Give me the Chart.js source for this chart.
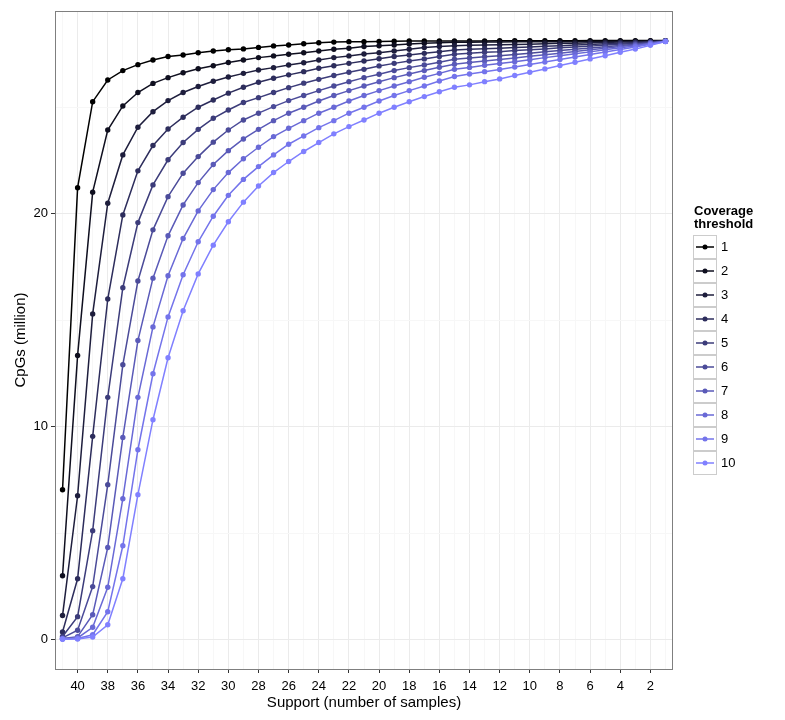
<!DOCTYPE html>
<html lang="en">
<head>
    <meta charset="UTF-8">
    <title>CpGs by support</title>
    <script src="https://cdn.jsdelivr.net/npm/chart.js"></script>
    <style>
        body { margin: 0; background: #fff; }
        #wrap { width: 785px; height: 720px; }
    </style>
</head>
<body>
<div id="wrap"><canvas id="cpgChart"></canvas></div>
<script>
    // support = number of samples, from 41 down to 1
    const support = [41, 40, 39, 38, 37, 36, 35, 34, 33, 32, 31, 30, 29, 28, 27, 26, 25, 24, 23, 22, 21,
        20, 19, 18, 17, 16, 15, 14, 13, 12, 11, 10, 9, 8, 7, 6, 5, 4, 3, 2, 1];

    // CpGs (million) per coverage threshold
    const cov1 = [7.04, 21.23, 25.27, 26.29, 26.73, 27.01, 27.23, 27.39, 27.46, 27.57, 27.65, 27.71, 27.75,
        27.82, 27.89, 27.93, 27.99, 28.04, 28.07, 28.09, 28.09, 28.10, 28.11, 28.12, 28.12, 28.12, 28.12,
        28.12, 28.12, 28.13, 28.13, 28.13, 28.13, 28.13, 28.13, 28.14, 28.14, 28.14, 28.14, 28.14, 28.14];
    const cov2 = [3.0, 13.35, 21.02, 23.94, 25.07, 25.70, 26.13, 26.40, 26.63, 26.82, 26.96, 27.11, 27.23,
        27.34, 27.42, 27.50, 27.57, 27.65, 27.73, 27.78, 27.86, 27.90, 27.93, 27.98, 28.01, 28.04, 28.06,
        28.06, 28.07, 28.07, 28.08, 28.08, 28.08, 28.09, 28.09, 28.10, 28.10, 28.11, 28.11, 28.12, 28.13];
    const cov3 = [1.13, 6.76, 15.3, 20.5, 22.77, 24.07, 24.80, 25.32, 25.70, 25.98, 26.23, 26.43, 26.60,
        26.76, 26.87, 26.99, 27.10, 27.23, 27.34, 27.42, 27.51, 27.57, 27.65, 27.73, 27.81, 27.86, 27.90,
        27.92, 27.93, 27.94, 27.96, 27.97, 27.99, 28.01, 28.02, 28.04, 28.05, 28.07, 28.08, 28.10, 28.12];
    const cov4 = [0.36, 2.86, 9.55, 16.0, 19.95, 22.02, 23.21, 23.99, 24.54, 25.01, 25.35, 25.67, 25.95,
        26.18, 26.37, 26.53, 26.68, 26.84, 26.96, 27.07, 27.18, 27.29, 27.39, 27.46, 27.54, 27.62, 27.70,
        27.73, 27.76, 27.78, 27.81, 27.84, 27.87, 27.90, 27.93, 27.96, 27.99, 28.02, 28.05, 28.08, 28.12];
    const cov5 = [0.15, 1.08, 5.12, 11.38, 16.53, 19.59, 21.36, 22.54, 23.35, 23.97, 24.49, 24.88, 25.23,
        25.46, 25.70, 25.93, 26.14, 26.32, 26.50, 26.65, 26.79, 26.95, 27.07, 27.18, 27.28, 27.39, 27.50,
        27.54, 27.59, 27.62, 27.67, 27.71, 27.75, 27.80, 27.84, 27.88, 27.93, 27.97, 28.01, 28.06, 28.12];
    const cov6 = [0.08, 0.44, 2.49, 7.28, 12.91, 16.85, 19.25, 20.81, 21.91, 22.69, 23.37, 23.94, 24.41,
        24.73, 25.04, 25.32, 25.56, 25.79, 26.01, 26.21, 26.40, 26.56, 26.73, 26.87, 26.99, 27.12, 27.26,
        27.32, 27.38, 27.43, 27.49, 27.55, 27.61, 27.67, 27.73, 27.79, 27.85, 27.91, 27.97, 28.04, 28.11];
    const cov7 = [0.05, 0.14, 1.17, 4.33, 9.5, 14.05, 16.98, 18.97, 20.42, 21.47, 22.32, 22.97, 23.52,
        23.97, 24.38, 24.73, 25.01, 25.30, 25.56, 25.79, 26.01, 26.21, 26.40, 26.57, 26.73, 26.89, 27.03,
        27.11, 27.18, 27.25, 27.32, 27.40, 27.48, 27.55, 27.63, 27.71, 27.78, 27.86, 27.93, 28.02, 28.11];
    const cov8 = [0.04, 0.08, 0.58, 2.46, 6.62, 11.38, 14.69, 17.09, 18.84, 20.14, 21.14, 21.94, 22.59,
        23.13, 23.63, 24.02, 24.38, 24.73, 25.01, 25.30, 25.56, 25.79, 26.01, 26.21, 26.42, 26.60, 26.79,
        26.88, 26.98, 27.06, 27.15, 27.24, 27.34, 27.43, 27.52, 27.61, 27.71, 27.80, 27.89, 28.00, 28.11];
    const cov9 = [0.03, 0.05, 0.23, 1.31, 4.41, 8.92, 12.49, 15.16, 17.14, 18.69, 19.89, 20.87, 21.62,
        22.22, 22.77, 23.27, 23.66, 24.05, 24.38, 24.73, 25.01, 25.30, 25.56, 25.79, 26.01, 26.24, 26.45,
        26.57, 26.68, 26.78, 26.90, 27.02, 27.13, 27.25, 27.37, 27.49, 27.60, 27.72, 27.84, 27.97, 28.10];
    const cov10 = [0.02, 0.03, 0.12, 0.70, 2.86, 6.81, 10.33, 13.24, 15.45, 17.18, 18.53, 19.63, 20.55,
        21.31, 21.94, 22.46, 22.93, 23.35, 23.76, 24.10, 24.41, 24.73, 25.01, 25.27, 25.51, 25.74, 25.95,
        26.06, 26.21, 26.34, 26.50, 26.65, 26.81, 26.97, 27.12, 27.28, 27.43, 27.59, 27.74, 27.92, 28.10];

    const thresholds = ['1', '2', '3', '4', '5', '6', '7', '8', '9', '10'];
    const series = [cov1, cov2, cov3, cov4, cov5, cov6, cov7, cov8, cov9, cov10];

    const xTicks = [40, 38, 36, 34, 32, 30, 28, 26, 24, 22, 20, 18, 16, 14, 12, 10, 8, 6, 4, 2];
    const xMinor = [41, 39, 37, 35, 33, 31, 29, 27, 25, 23, 21, 19, 17, 15, 13, 11, 9, 7, 5, 3, 1];
    const yTicks = [0, 10, 20];
    const yMinor = [5, 15, 25];

    const colors = ['#000000', '#0f0f1f', '#1e1e3d', '#2d2d5c', '#3c3c7a', '#4b4b99',
        '#5a5ab8', '#6969d6', '#7474eb', '#8080ff'];

    const FONT = '"Liberation Sans", Arial, Helvetica, sans-serif';
    Chart.defaults.font.family = FONT;
    Chart.defaults.color = '#000';

    const datasets = series.map((vals, i) => ({
        label: thresholds[i],
        data: vals.map((v, j) => ({ x: support[j], y: v })),
        borderColor: colors[i],
        backgroundColor: colors[i],
        pointBackgroundColor: colors[i],
        pointBorderWidth: 0,
        pointRadius: 2.7,
        borderWidth: 1.5,
        order: series.length - 1 - i,
        fill: false
    }));

    // ggplot-ish panel border + legend on the right
    const panelBorder = {
        id: 'panelBorder',
        afterDatasetsDraw(chart) {
            const a = chart.chartArea, ctx = chart.ctx;
            ctx.save();
            ctx.strokeStyle = '#7f7f7f';
            ctx.lineWidth = 1;
            ctx.strokeRect(Math.round(a.left) + 0.5, Math.round(a.top) + 0.5,
                Math.round(a.right - a.left) - 1, Math.round(a.bottom - a.top));
            ctx.restore();
        }
    };

    const sideLegend = {
        id: 'sideLegend',
        afterDraw(chart) {
            const ctx = chart.ctx;
            ctx.save();
            ctx.fillStyle = '#000';
            ctx.textBaseline = 'middle';
            ctx.font = 'bold 13px ' + FONT;
            ctx.fillText('Coverage', 694, 211);
            ctx.fillText('threshold', 694, 224);
            ctx.font = '13px ' + FONT;
            chart.data.datasets.forEach((ds, i) => {
                const top = 234.5 + i * 24.1;
                ctx.strokeStyle = '#cccccc';
                ctx.lineWidth = 1;
                ctx.strokeRect(693.5, Math.round(top) + 0.5, 23, 23);
                const cy = Math.round(top) + 12;
                ctx.strokeStyle = ds.borderColor;
                ctx.lineWidth = 1.5;
                ctx.beginPath();
                ctx.moveTo(696, cy);
                ctx.lineTo(714, cy);
                ctx.stroke();
                ctx.fillStyle = ds.borderColor;
                ctx.beginPath();
                ctx.arc(705, cy, 2.5, 0, Math.PI * 2);
                ctx.fill();
                ctx.fillStyle = '#000';
                ctx.fillText(ds.label, 721, cy);
            });
            ctx.restore();
        }
    };

    const ctx = document.getElementById('cpgChart').getContext('2d');
    new Chart(ctx, {
        type: 'line',
        data: { datasets: datasets },
        options: {
            responsive: true,
            maintainAspectRatio: false,
            animation: false,
            layout: { padding: { top: 11, right: 112, bottom: 0, left: 0 } },
            plugins: {
                legend: { display: false },
                tooltip: { enabled: false }
            },
            scales: {
                x: {
                    type: 'linear',
                    reverse: true,
                    min: 0.5,
                    max: 41.5,
                    afterBuildTicks: (scale) => {
                        scale.ticks = xMinor.concat(xTicks).sort((a, b) => b - a).map(v => ({ value: v }));
                    },
                    afterFit: (scale) => { scale.height = 51; },
                    border: { display: false },
                    grid: {
                        color: (c) => xTicks.includes(c.tick.value) ? '#ebebeb' : '#f7f7f7',
                        tickColor: (c) => xTicks.includes(c.tick.value) ? '#333' : 'rgba(0,0,0,0)',
                        tickLength: 4
                    },
                    ticks: {
                        autoSkip: false,
                        maxRotation: 0,
                        padding: 6,
                        font: { size: 13 },
                        color: '#000',
                        callback: (v) => xTicks.includes(v) ? String(v) : ''
                    },
                    title: {
                        display: true,
                        text: 'Support (number of samples)',
                        font: { size: 15 },
                        color: '#000',
                        padding: { top: 0, bottom: 8 }
                    }
                },
                y: {
                    type: 'linear',
                    min: -1.38,
                    max: 29.53,
                    afterBuildTicks: (scale) => {
                        scale.ticks = yTicks.concat(yMinor).sort((a, b) => a - b).map(v => ({ value: v }));
                    },
                    afterFit: (scale) => { scale.width = 55; },
                    border: { display: false },
                    grid: {
                        color: (c) => yTicks.includes(c.tick.value) ? '#ebebeb' : '#f7f7f7',
                        tickColor: (c) => yTicks.includes(c.tick.value) ? '#333' : 'rgba(0,0,0,0)',
                        tickLength: 4
                    },
                    ticks: {
                        autoSkip: false,
                        padding: 3,
                        font: { size: 13 },
                        color: '#000',
                        callback: (v) => yTicks.includes(v) ? String(v) : ''
                    },
                    title: {
                        display: true,
                        text: 'CpGs (million)',
                        font: { size: 15 },
                        color: '#000',
                        padding: { top: 12, bottom: 0 }
                    }
                }
            }
        },
        plugins: [panelBorder, sideLegend]
    });
</script>
</body>
</html>
